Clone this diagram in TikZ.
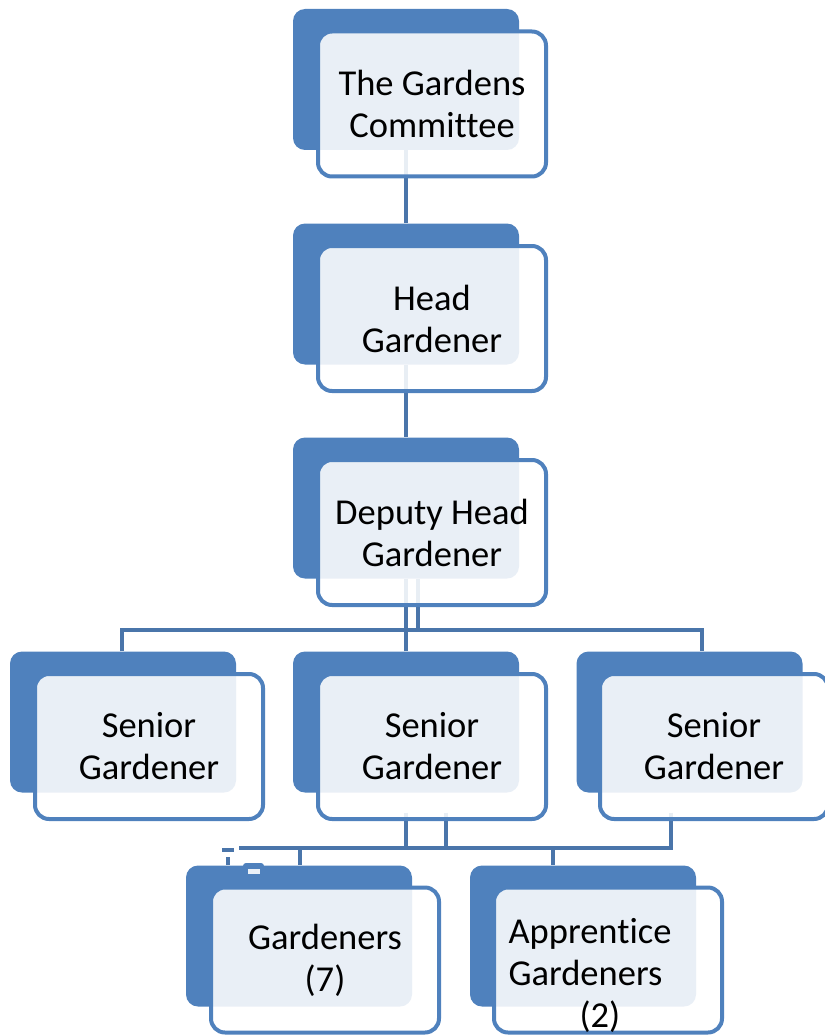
\documentclass[tikz,border=0pt]{standalone}
\usepackage{fontspec}
\setmainfont{Carlito}[Ligatures={NoCommon}]
\usetikzlibrary{backgrounds}
\definecolor{backblue}{RGB}{79,129,189}
\definecolor{linkblue}{RGB}{74,117,170}
\definecolor{paleblue}{RGB}{234,240,247}
\tikzset{
 backbox/.style={fill=backblue, rounded corners=12pt, minimum width=226pt, minimum height=141pt, inner sep=0pt},
 frontbox/.style={draw=backblue, line width=4pt, fill=white, fill opacity=0.88, text opacity=1, rounded corners=14pt, minimum width=228pt, minimum height=145pt, inner sep=0pt, align=center, font=\fontsize{36.5}{42}\selectfont},
 boxtext/.style={align=left, inner sep=0pt, font=\fontsize{36.5}{42}\selectfont},
 conn/.style={draw=linkblue, line width=4pt},
}
\begin{document}
\begin{tikzpicture}[x=1pt,y=-1pt]
\useasboundingbox (0,0) rectangle (824,1035);
% boxes
\node[backbox] (comB) at (406,79.5) {};
\node[frontbox] (comF) at (432,104) {The Gardens\\Committee};
\node[backbox] (headB) at (406,294) {};
\node[frontbox] (headF) at (432,318.5) {Head\\Gardener};
\node[backbox] (depB) at (406,508) {};
\node[frontbox] (depF) at (432,532.5) {Deputy Head\\Gardener};
\node[backbox] (senaB) at (123,722) {};
\node[frontbox] (senaF) at (149,746.5) {Senior\\Gardener};
\node[backbox] (senbB) at (406,722) {};
\node[frontbox] (senbF) at (432,746.5) {Senior\\Gardener};
\node[backbox] (sencB) at (689.5,722) {};
\node[frontbox] (sencF) at (714,746.5) {Senior\\Gardener};
\node[backbox] (garB) at (299,936) {};
\node[fill=backblue, rounded corners=3pt, minimum width=21pt, minimum height=12pt, inner sep=0pt] (tab) at (253.5,869) {};
\node[fill=paleblue, minimum width=12pt, minimum height=5pt, inner sep=0pt] (tabin) at (254,871.5) {};
\node[frontbox] (garF) at (325,960) {Gardeners\\(7)};
\node[backbox] (appB) at (583,936) {};
\node[frontbox] (appF) at (608,960) {};
\node[boxtext] (appT) at (590,975) {Apprentice\\Gardeners\\\hspace*{71pt}(2)};
% connectors
\begin{pgfonlayer}{background}
\coordinate (busA) at (122,630);
\coordinate (busB) at (702,630);
\coordinate (busC) at (239,848);
\coordinate (busD) at (671,848);
\coordinate (dropG) at (300,848);
\coordinate (dropA) at (553,848);
\coordinate (dashA) at (222,850);
\coordinate (dashB) at (234,850);
\coordinate (stubA) at (227.5,857);
\draw[conn] (comB.south) -- (headB.north);
\draw[conn] (headB.south) -- (depB.north);
\draw[conn] (depB.south) -- (depB.south |- busA);
\draw[conn] ([xshift=12pt]depB.south) -- ([xshift=12pt]depB.south |- busA);
\draw[conn] (senaB.north -| busA) -- (busA) -- (busB) -- (senaB.north -| busB);
\draw[conn] (senbB.north) -- (senbB.north |- busA);
\draw[conn] ([yshift=-20pt]senbB.south) -- (senbB.south |- busC);
\draw[conn] ([xshift=40pt,yshift=-20pt]senbB.south) -- ([xshift=40pt]senbB.south |- busC);
\draw[conn] ([yshift=-20pt]sencB.south -| busD) -- (busD) -- (busC);
\draw[conn] (dropG) -- (dropG |- garB.north);
\draw[conn] (dropA) -- (dropA |- appB.north);
\draw[conn] (dashA) -- (dashB);
\draw[conn] (stubA) -- (stubA |- garB.north);
\end{pgfonlayer}
\end{tikzpicture}
\end{document}
